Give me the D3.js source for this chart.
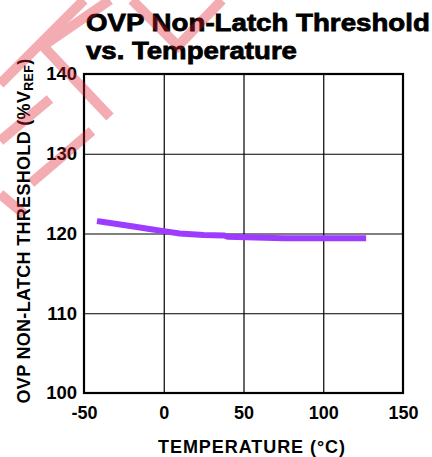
<!DOCTYPE html>
<html><head><meta charset="utf-8">
<script src="https://cdn.jsdelivr.net/npm/d3@7"></script>
<style>body{margin:0;background:#fff}svg{display:block}text{font-family:"Liberation Sans",Arial,Helvetica,sans-serif}</style>
</head><body><svg id="c" width="432" height="457"></svg>
<script>
// ---- data ----
const temps = [-40, -20, -10, 0, 10, 25, 38, 40, 75, 125];
const values = [121.5, 120.9, 120.6, 120.3, 120.0, 119.8, 119.75, 119.6, 119.4, 119.4];
const xTicks = [-50, 0, 50, 100, 150];
const yTicks = [100, 110, 120, 130, 140];
const titleLines = ["OVP Non-Latch Threshold", "vs. Temperature"];
const xTitle = "TEMPERATURE (°C)";
const yTitleMain = "OVP NON-LATCH THRESHOLD (%V";
const yTitleSub = "REF";

const svg = d3.select("#c");
const L = 84, R = 403, T = 74, B = 393;
const x = d3.scaleLinear().domain([-50, 150]).range([L, R]);
const y = d3.scaleLinear().domain([100, 140]).range([B, T]);

function fit(t, target) {
  const n = t.text().length;
  const w = t.node().getComputedTextLength();
  t.attr("letter-spacing", ((target - w) / n).toFixed(3));
}

// grid
const gx = svg.append("g").attr("transform", `translate(0,${B})`)
  .call(d3.axisBottom(x).tickValues(xTicks.slice(1, -1)).tickSize(-(B - T)).tickFormat(""));
gx.select(".domain").remove();
gx.selectAll("line").attr("stroke", "#000").attr("stroke-width", 1.2);
const gy = svg.append("g").attr("transform", `translate(${L},0)`)
  .call(d3.axisLeft(y).tickValues(yTicks.slice(1, -1)).tickSize(-(R - L)).tickFormat(""));
gy.select(".domain").remove();
gy.selectAll("line").attr("stroke", "#000").attr("stroke-width", 1.2);

// frame
svg.append("rect").attr("x", L).attr("y", T).attr("width", R - L).attr("height", B - T)
  .attr("fill", "none").attr("stroke", "#000").attr("stroke-width", 2.2);

// tick labels
const ax = svg.append("g").attr("transform", `translate(0,${B})`)
  .call(d3.axisBottom(x).tickValues(xTicks).tickSize(0).tickPadding(13).tickFormat(d => String(d)));
ax.select(".domain").remove();
ax.selectAll("text").attr("font-size", 18).attr("font-weight", "bold").attr("fill", "#000")
  .style("font-family", '"Liberation Sans",Arial,sans-serif');
const ay = svg.append("g").attr("transform", `translate(${L},0)`)
  .call(d3.axisLeft(y).tickValues(yTicks).tickSize(0).tickPadding(7).tickFormat(d => String(d)));
ay.select(".domain").remove();
ay.selectAll("text").attr("font-size", 18.5).attr("font-weight", "bold").attr("fill", "#000")
  .style("font-family", '"Liberation Sans",Arial,sans-serif');

// data line
const line = d3.line().x((d, i) => x(temps[i])).y(d => y(d));
svg.append("path").datum(values).attr("d", line)
  .attr("fill", "none").attr("stroke", "#9d3cff").attr("stroke-width", 6)
  .attr("stroke-linecap", "square").attr("stroke-linejoin", "round");

// axis titles
const xt = svg.append("text").attr("x", 252).attr("y", 453).attr("text-anchor", "middle")
  .attr("font-size", 18).attr("font-weight", "bold").text(xTitle);
fit(xt, 188);

const yt = svg.append("text").attr("transform", "translate(30,231) rotate(-90)")
  .attr("text-anchor", "middle").attr("font-size", 18).attr("font-weight", "bold");
yt.append("tspan").text(yTitleMain);
yt.append("tspan").attr("font-size", 12.5).attr("dy", 3).text(yTitleSub);
yt.append("tspan").attr("dy", -3).text(")");
fit(yt, 345);

// title (horizontally stretched to the reference widths)
function titleLine(txt, ty, target) {
  const t = svg.append("text").attr("x", 0).attr("y", 0).attr("font-size", 24.5).attr("font-weight", "bold")
    .attr("stroke", "#000").attr("stroke-width", 0.8).text(txt);
  const w = t.node().getComputedTextLength();
  t.attr("transform", `translate(86,${ty}) scale(${(target / w).toFixed(4)},1)`);
}
titleLine(titleLines[0], 31, 344);
titleLine(titleLines[1], 58.5, 211);

// watermark
const wm = [
  [[84, 0], [0, 84]],
  [[110, 0], [43, 46], [110, 117]],
  [[132, 0], [178, 46], [222, 0]],
  [[50, 99], [0, 141]],
  [[92, 131], [31, 183]],
  [[0, 194], [24, 214]]
];
svg.append("g").attr("opacity", 0.36).selectAll("path").data(wm).join("path")
  .attr("d", d3.line()).attr("fill", "none").attr("stroke", "rgb(222,30,45)")
  .attr("stroke-width", 10).attr("stroke-linejoin", "miter").attr("stroke-linecap", "butt");
</script></body></html>
